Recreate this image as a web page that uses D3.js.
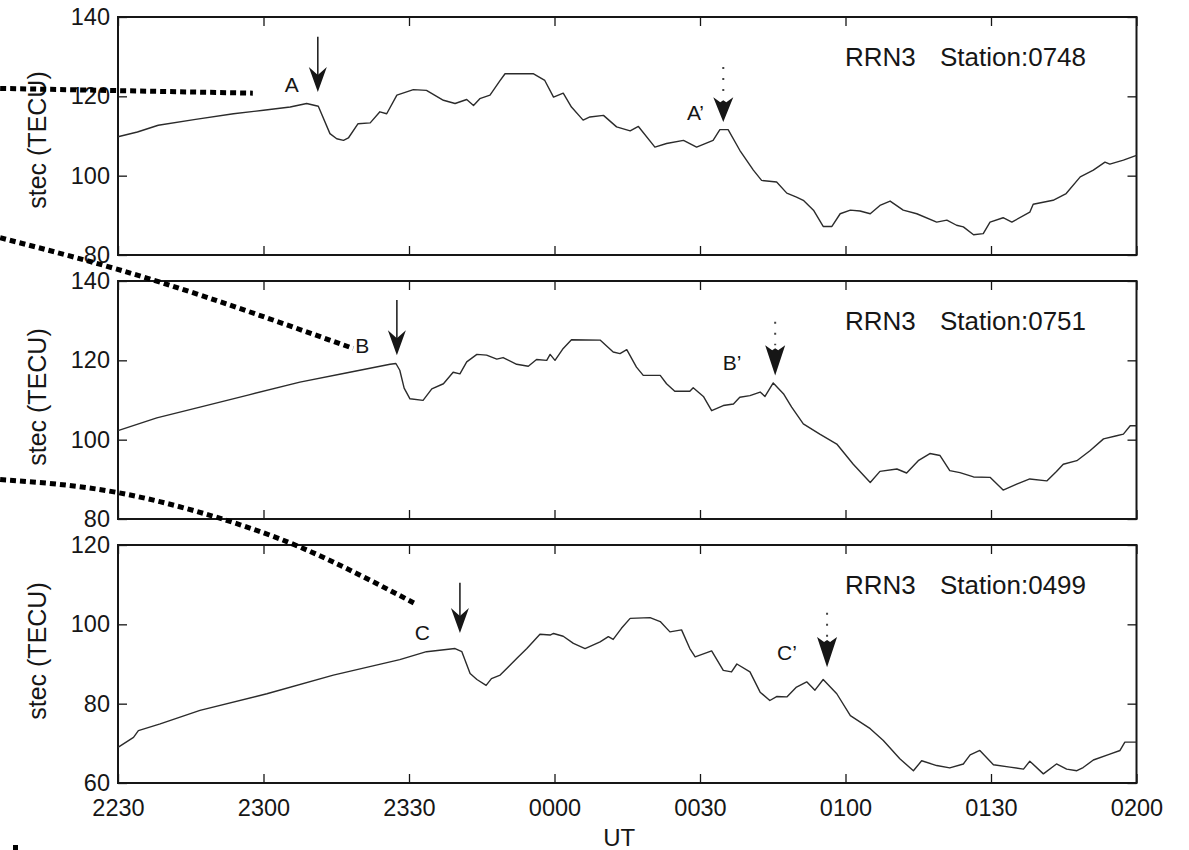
<!DOCTYPE html>
<html><head><meta charset="utf-8">
<script src="https://cdn.jsdelivr.net/npm/d3@7"></script>
<style>
html,body{margin:0;padding:0;background:#fff;}
svg{display:block;font-family:"Liberation Sans",Arial,Helvetica,sans-serif;}
</style></head><body>
<svg id="chart" width="1189" height="850"></svg>
<script>
// ---- data: slant TEC (TECU) against minutes after 22:30 UT ----
const tickMinutes = [0, 30, 60, 90, 120, 150, 180, 210];
const tickLabels  = ["2230", "2300", "2330", "0000", "0030", "0100", "0130", "0200"];

const stations = ["0748", "0751", "0499"];
const receiver = "RRN3";

const time0748 = [0,4,8.3,16,23.8,30,35.5,38.9,41.3,43.7,45.1,46.5,47.5,49.5,52,54,55.4,57.5,60.9,63.6,67.1,69.5,71.9,73.3,74.6,76.7,78.8,79.8,85.6,88,89.8,91.8,93.5,95.9,97.3,100.1,102.8,105.6,107.3,110.7,113.1,116.6,119.3,122.7,124.1,125.8,128.2,131,132.7,135.8,137.9,139.9,141.3,143.4,145.4,147.2,148.9,151,153,155.1,157.1,159.2,161.9,164.7,168.8,170.9,172.9,174.3,176.4,178.4,179.8,182.5,184.3,188,188.7,192.8,195.5,198.4,201.1,203.5,204.5,207.3,210];
const stec0748 = [109.8,111.0,112.7,114.2,115.6,116.5,117.3,118.2,117.5,110.6,109.3,108.9,109.5,113.1,113.3,116.1,115.6,120.3,121.7,121.5,119.0,118.2,119.2,117.7,119.4,120.3,124.0,125.7,125.7,124.0,119.8,120.8,117.3,114.0,114.8,115.2,112.3,111.3,112.4,107.2,108.1,108.9,107.2,108.9,111.6,111.6,106.4,101.4,98.8,98.4,95.6,94.6,93.8,91.3,87.2,87.2,90.4,91.3,91.1,90.4,92.5,93.6,91.3,90.4,88.3,88.8,87.5,87.1,85.1,85.4,88.3,89.4,88.3,90.8,92.8,93.8,95.5,99.7,101.4,103.4,102.9,103.9,105.1];

const time0751 = [0,8,16.9,27,37.5,47,56.1,57.3,58.1,59,60.2,62.9,64.7,67.1,69.1,70.5,71.9,74,76,78.1,79.4,82.2,84.6,86.3,88.4,89.1,90.1,91.8,93.5,99.4,102.1,103.5,104.9,106.9,108.3,111.8,113.1,114.8,117.9,118.6,120.7,122.4,124.8,126.9,128.2,130.3,132.4,133.4,135.1,137.2,138.9,141.3,144.7,148.2,151.6,155.1,157.1,160.6,162.6,165,167.4,169.5,171.5,173.6,176.4,179.8,182.5,185.3,188,191.5,193.5,194.9,197.7,200.4,203.2,205.9,207.3,208.7,210];
const stec0751 = [102.3,105.5,108.2,111.3,114.5,116.8,119.0,119.2,117.5,113.0,110.3,109.9,112.8,114.1,117.0,116.6,119.6,121.5,121.3,120.3,120.7,119.0,118.5,120.2,120.0,121.5,120.0,123.0,125.2,125.1,122.1,121.7,122.7,118.3,116.2,116.2,114.1,112.2,112.2,113.1,110.9,107.3,108.6,109.0,110.7,111.1,112.0,110.9,114.3,111.6,108.2,104.0,101.4,98.9,93.8,89.2,92.0,92.6,91.6,94.7,96.5,96.0,92.2,91.7,90.6,90.5,87.3,88.8,90.1,89.6,92.0,93.8,94.7,97.2,100.2,101.0,101.4,103.5,103.5];

const time0499 = [0,3.2,4.2,8.7,16.9,30.7,44.4,58.1,63.6,69.5,70.9,72.6,74,75.9,77,78.8,82.2,84.3,87,89.1,89.8,91.8,93.9,96.3,99.4,101.1,102.1,103.8,105.6,109.7,111.8,113.8,116.2,117.9,119,122.4,124.8,126.5,127.6,130.3,132.4,134.4,135.8,137.9,139.9,142,143.7,145.4,148.2,151,155.1,157.8,161.2,164,165.7,168.8,171.5,174.3,175.7,177.7,180.5,183.9,186.7,188,190.8,193.5,195.6,197.7,199,201.1,204.5,206.6,207.6,210];
const stec0499 = [69.0,71.5,73.2,74.9,78.3,82.5,87.2,91.1,93.1,93.9,93.1,87.6,86.1,84.6,86.3,87.2,91.4,93.9,97.5,97.3,97.7,97.0,95.2,93.9,95.6,96.9,96.2,99.0,101.5,101.7,100.7,98.1,98.6,93.9,91.8,93.3,88.4,88.0,90.0,88.0,82.9,80.8,81.8,81.7,84.2,85.5,83.4,86.1,82.5,77.0,73.7,70.7,66.1,63.1,65.6,64.4,63.8,64.8,67.1,68.2,64.6,64.0,63.5,65.5,62.3,64.8,63.5,63.1,63.9,65.8,67.3,68.2,70.3,70.3];

const seriesTimes  = [time0748, time0751, time0499];
const seriesValues = [stec0748, stec0751, stec0499];
const yDomains = [[80, 140], [80, 140], [60, 120]];
const yTicks   = [[80, 100, 120, 140], [80, 100, 120, 140], [60, 80, 100, 120]];

// onset markers (solid arrows) and later peaks (dotted arrows)
const onsetLabels  = ["A", "B", "C"];
const onsetLabelT  = [34.4, 48.9, 61.2];
const onsetLabelV  = [121.0, 121.8, 96.0];
const onsetT       = [41.2, 57.5, 70.5];
const onsetTopV    = [135.0, 135.2, 110.5];
const onsetTipV    = [121.1, 121.3, 97.8];

const peakLabels   = ["A\u2019", "B\u2019", "C\u2019"];
const peakLabelT   = [117.3, 124.7, 135.9];
const peakLabelV   = [114.0, 117.5, 91.0];
const peakT        = [124.8, 135.5, 146.2];
const peakTopV     = [127.4, 129.7, 102.9];
const peakHeadV    = [119.8, 123.8, 96.8];
const peakTipV     = [113.5, 116.2, 89.2];

// leader lines running in from the left margin, in each panel's own units
const leaderT = [[-24.3, 27.8], [-24.3, 8.7, 48.5], [-24.3, 0, 25.2, 43.7, 61.0]];
const leaderV = [[122.0, 120.8], [150.9, 139.7, 123.0], [136.5, 133.2, 125.1, 116.1, 105.4]];

// ---- layout ----
const svg = d3.select("#chart");
const plotLeft = 118, plotRight = 1136.5;
const panelTops = [17, 281, 545];
const panelH = 238;
const titleShift = [4, -3, -13];
const ink = "#161616";

const x = d3.scaleLinear().domain([0, 210]).range([plotLeft, plotRight]);
const fmtX = d => tickLabels[tickMinutes.indexOf(d)];

const leaderLayer = [];

panelTops.forEach((top, i) => {
  const y = d3.scaleLinear().domain(yDomains[i]).range([top + panelH, top]);
  const g = svg.append("g");

  // inward ticks on all four sides
  const left = d3.axisLeft(y).tickValues(yTicks[i]).tickSizeInner(-9).tickSizeOuter(0).tickPadding(8);
  const right = d3.axisRight(y).tickValues(yTicks[i]).tickSizeInner(-9).tickSizeOuter(0).tickFormat("");
  const topAx = d3.axisTop(x).tickValues(tickMinutes).tickSizeInner(-9).tickSizeOuter(0).tickFormat("");
  const bottom = d3.axisBottom(x).tickValues(tickMinutes).tickSizeInner(-9).tickSizeOuter(0)
      .tickPadding(14).tickFormat(i === 2 ? fmtX : "");

  const ga = [
    g.append("g").attr("transform", `translate(${plotLeft},0)`).call(left),
    g.append("g").attr("transform", `translate(${plotRight},0)`).call(right),
    g.append("g").attr("transform", `translate(0,${top})`).call(topAx),
    g.append("g").attr("transform", `translate(0,${top + panelH})`).call(bottom)
  ];
  ga.forEach(a => {
    a.select(".domain").remove();
    a.selectAll("line").attr("stroke", ink).attr("stroke-width", 1.3);
    a.selectAll("text").attr("fill", ink).attr("font-size", 23.5)
      .attr("font-family", "'Liberation Sans',Arial,Helvetica,sans-serif");
  });
  ga[3].selectAll("text").attr("dy", null).attr("y", 33).attr("dominant-baseline", "alphabetic");

  // frame
  g.append("rect").attr("x", plotLeft).attr("y", top)
    .attr("width", plotRight - plotLeft).attr("height", panelH)
    .attr("fill", "none").attr("stroke", ink).attr("stroke-width", 2);

  // y title
  g.append("text")
    .attr("transform", `translate(46,${top + panelH / 2 + titleShift[i]}) rotate(-90)`)
    .attr("text-anchor", "middle").attr("font-size", 25).attr("fill", ink)
    .text("stec (TECU)");

  // station caption
  g.append("text").attr("x", plotRight - 291.5).attr("y", top + 49)
    .attr("font-size", 26).attr("fill", ink).text(receiver);
  g.append("text").attr("x", plotRight - 196.5).attr("y", top + 49)
    .attr("font-size", 26).attr("fill", ink).text("Station:" + stations[i]);

  // TEC trace
  const pts = seriesTimes[i].map((t, k) => [t, seriesValues[i][k]]);
  g.append("path").datum(pts)
    .attr("d", d3.line().x(d => x(d[0])).y(d => y(d[1])))
    .attr("fill", "none").attr("stroke", "#2b2b2b").attr("stroke-width", 1.4)
    .attr("stroke-linejoin", "round");

  // solid onset arrow
  const ox = x(onsetT[i]), oTip = y(onsetTipV[i]);
  g.append("line").attr("x1", ox).attr("x2", ox)
    .attr("y1", y(onsetTopV[i])).attr("y2", oTip - 10)
    .attr("stroke", ink).attr("stroke-width", 1.5);
  g.append("path")
    .attr("d", `M${ox},${oTip} L${ox - 9},${oTip - 25} L${ox},${oTip - 17} L${ox + 9},${oTip - 25} Z`)
    .attr("fill", ink);
  g.append("text").attr("x", x(onsetLabelT[i])).attr("y", y(onsetLabelV[i]))
    .attr("font-size", 21).attr("fill", ink).text(onsetLabels[i]);

  // dotted peak arrow
  const px = x(peakT[i]), pHead = y(peakHeadV[i]), pTip = y(peakTipV[i]);
  g.append("line").attr("x1", px).attr("x2", px)
    .attr("y1", y(peakTopV[i])).attr("y2", pHead)
    .attr("stroke", "#444").attr("stroke-width", 2).attr("stroke-dasharray", "2,9");
  const hl = pTip - pHead;
  g.append("path")
    .attr("d", `M${px},${pTip} L${px - 10},${pTip - hl} L${px - 3},${pTip - hl + 5} L${px},${pTip - hl + 3} L${px + 3},${pTip - hl + 5} L${px + 10},${pTip - hl} Z`)
    .attr("fill", ink);
  g.append("text").attr("x", x(peakLabelT[i])).attr("y", y(peakLabelV[i]))
    .attr("font-size", 21).attr("fill", ink).text(peakLabels[i]);

  leaderLayer.push(leaderT[i].map((t, k) => [x(t), y(leaderV[i][k])]));
});

// x title
svg.append("text").attr("x", (plotLeft + plotRight) / 2 - 8).attr("y", 846)
  .attr("text-anchor", "middle").attr("font-size", 24).attr("fill", ink).text("UT");

// leader lines on top of everything
leaderLayer.forEach(p => {
  svg.append("path").datum(p)
    .attr("d", d3.line().curve(d3.curveNatural)(p))
    .attr("fill", "none").attr("stroke", "#000").attr("stroke-width", 5)
    .attr("stroke-dasharray", "6,4");
});
svg.append("rect").attr("x", 13).attr("y", 845).attr("width", 5).attr("height", 5).attr("fill", "#000");
</script></body></html>
